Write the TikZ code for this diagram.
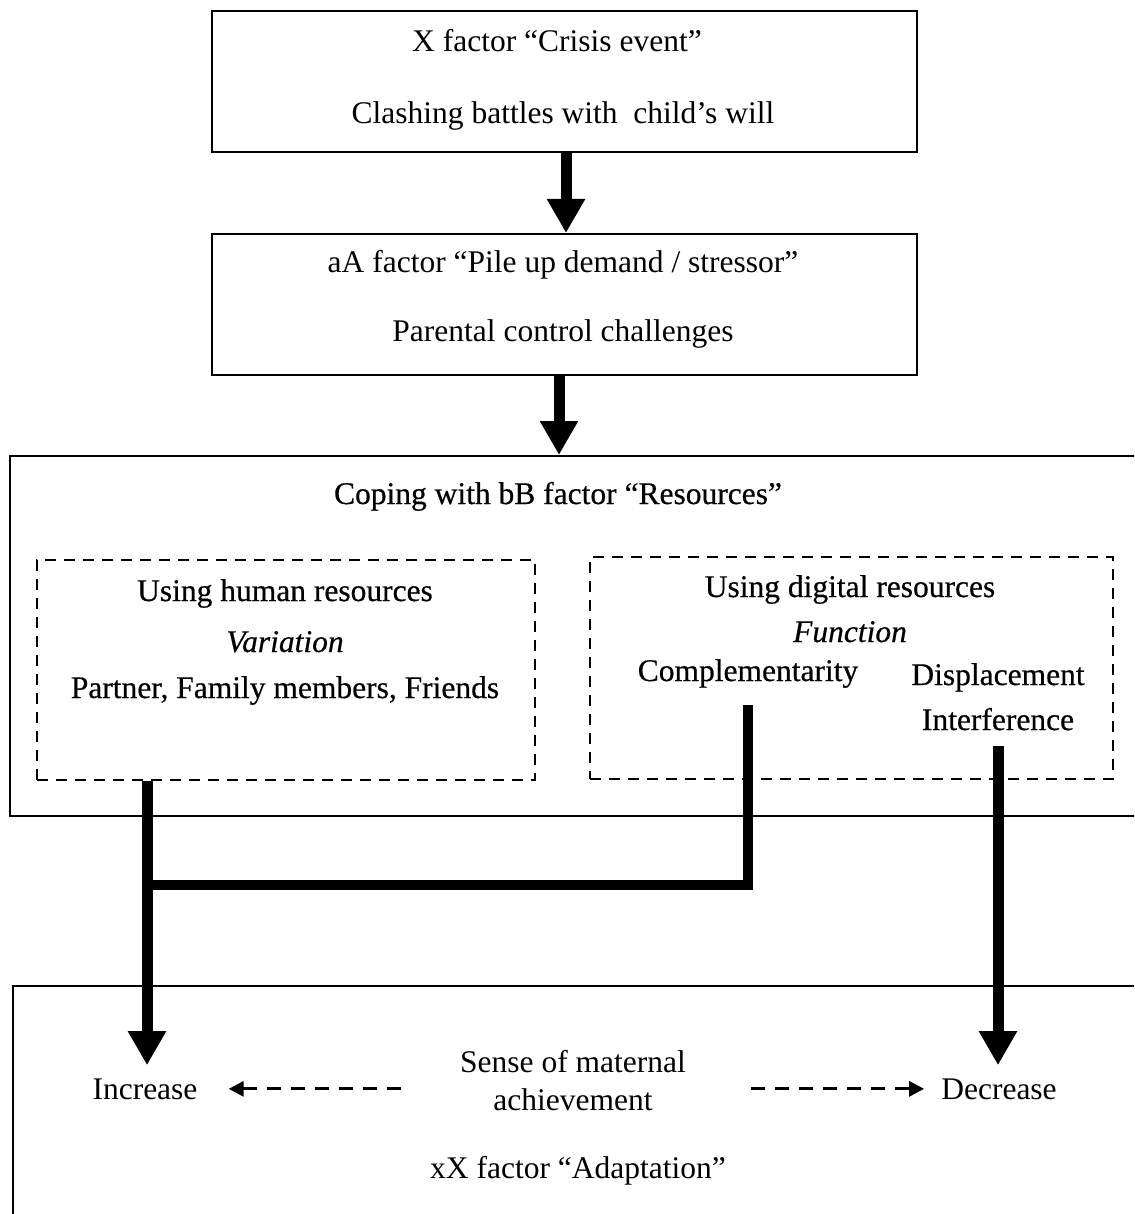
\documentclass[tikz,border=0pt]{standalone}
\usepackage{fontspec}
\setmainfont{Liberation Serif}
\newfontfamily\heavyserif[FakeBold=0.5]{Liberation Serif}
\usetikzlibrary{arrows.meta,positioning}
\tikzset{
  frame/.style={draw=black,line width=2pt,anchor=north west,inner sep=0pt},
  dashframe/.style={frame,dash pattern=on 11pt off 8pt},
  txt/.style={font=\fontsize{31.5}{38}\selectfont,align=center,inner sep=2pt,anchor=base},
  heavytxt/.style={txt,font=\fontsize{31.5}{38}\heavyserif},
  bigarrow/.style={line width=11pt,-{Triangle[width=36pt,length=34pt]}},
  bigline/.style={line width=10pt},
  dasharrow/.style={line width=3pt,dash pattern=on 14pt off 10pt,-{Triangle[width=15pt,length=15pt]}}
}
\begin{document}
\begin{tikzpicture}[x=1pt,y=-1pt]
\useasboundingbox (0,0) rectangle (1134,1214);
\clip (0,0) rectangle (1134,1214);
\node[frame,minimum width=705,minimum height=141] (crisis) at (211,10) {};
\node[frame,minimum width=705,minimum height=141] (pileup) at (211,233) {};
\node[frame,minimum width=1200,minimum height=360] (bres) at (9,455) {};
\node[dashframe,minimum width=498,minimum height=220] (human) at (36,559) {};
\node[dashframe,minimum width=523,minimum height=222] (digital) at (589,556) {};
\node[frame,minimum width=1200,minimum height=300] (adapt) at (12,985) {};

\node[txt] (t1) at (557,52) {X factor “Crisis event”};
\node[txt] (t2) at (563,124) {Clashing battles with\ \ child’s will};
\node[txt] (t3) at (563,273) {aA factor “Pile up demand / stressor”};
\node[txt] (t4) at (563,341) {Parental control challenges};
\node[heavytxt] (t5) at (558,504) {Coping with bB factor “Resources”};
\node[heavytxt] (hum1) at (285,601) {Using human resources};
\node[heavytxt] (hum2) at (285,652) {\itshape Variation};
\node[heavytxt] (hum3) at (285,698) {Partner, Family members, Friends};
\node[heavytxt] (dig1) at (850,597) {Using digital resources};
\node[heavytxt] (dig2) at (850,642) {\itshape Function};
\node[heavytxt] (comp) at (748,681) {Complementarity};
\node[heavytxt] (displ) at (998,685) {Displacement};
\node[heavytxt] (interf) at (998,730) {Interference};
\node[txt] (incr) at (145,1099) {Increase};
\node[txt] (decr) at (999,1099) {Decrease};
\node[txt,anchor=center] (sense) at (573,1081) {Sense of maternal\\achievement};
\node[txt] (t6) at (578,1178) {xX factor “Adaptation”};
\coordinate (joint) at (147,885);

\draw[bigarrow] ([xshift=1.5pt]crisis.south) -- ([xshift=1.5pt]pileup.north);
\draw[bigarrow] ([xshift=-5.5pt]pileup.south) -- ([xshift=-5.5pt]pileup.south |- bres.north);
\draw[bigline] ([yshift=-15pt]comp.south) |- (joint);
\draw[bigarrow] (human.south -| joint) -- ([yshift=11pt]incr.north -| joint);
\draw[bigarrow] ([yshift=-13pt]interf.south) -- ([yshift=11pt]interf.south |- decr.north);
\draw[dasharrow] ([xshift=-57pt]sense.west |- incr.east) -- ([xshift=29pt]incr.east);
\draw[dasharrow] ([xshift=63pt]sense.east |- decr.west) -- ([xshift=-15pt]decr.west);
\end{tikzpicture}
\end{document}
